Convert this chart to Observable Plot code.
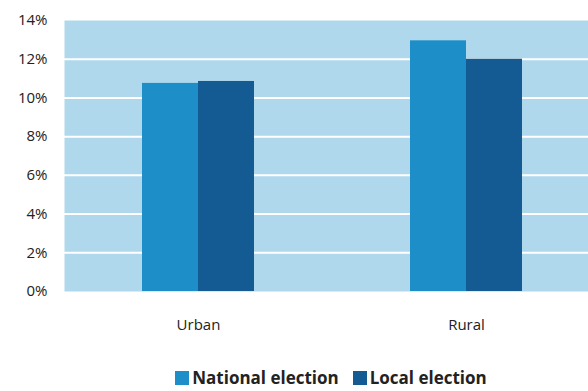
<!DOCTYPE html>
<html>
<head>
<meta charset="utf-8">
<script src="https://cdn.jsdelivr.net/npm/d3@7"></script>
<script src="https://cdn.jsdelivr.net/npm/@observablehq/plot@0.6"></script>
<style>
  html, body { margin: 0; padding: 0; background: #fff; overflow: hidden; }
  body { width: 588px; height: 391px; font-family: "Open Sans", sans-serif; }
  #legend { display: flex; justify-content: center; gap: 14px; padding-left: 74px; margin-top: 18px;
    font-weight: bold; font-size: 17px; color: #222; line-height: 20px; }
  .item { display: flex; align-items: center; gap: 3px; }
  .sw { width: 14px; height: 14px; display: inline-block; }
</style>
</head>
<body>
<div id="chart"></div>
<div id="legend"></div>
<script>
const categories = ["Urban", "Rural"];
const series = ["National election", "Local election"];
const nationalValues = [10.75, 12.95];
const localValues = [10.85, 12.0];
const yTicks = [0, 2, 4, 6, 8, 10, 12, 14];
const colors = ["#1e8ec9", "#145b93"];
const bgColor = "#afd8ec";

const national = categories.map((c, i) => ({category: c, series: series[0], value: nationalValues[i]}));
const local = categories.map((c, i) => ({category: c, series: series[1], value: localValues[i]}));

const chart = Plot.plot({
  width: 588,
  height: 350,
  marginLeft: 64,
  marginRight: 0,
  marginTop: 20,
  marginBottom: 59,
  style: {fontFamily: "Open Sans, sans-serif", fontSize: "15px", color: "#222", background: "#fff"},
  x: {domain: categories, range: [64, 600], padding: 0, label: null, tickSize: 0, tickPadding: 28},
  y: {domain: [0, 14], ticks: yTicks, tickFormat: d => d + "%", label: null, tickSize: 0, tickPadding: 17},
  marks: [
    Plot.frame({fill: bgColor, stroke: null}),
    Plot.ruleY(yTicks.filter(t => t > 0 && t < 14), {stroke: "#fff", strokeWidth: 2}),
    Plot.barY(national, {x: "category", y: "value", fill: colors[0], insetLeft: 78, insetRight: 134}),
    Plot.barY(local, {x: "category", y: "value", fill: colors[1], insetLeft: 134, insetRight: 78})
  ]
});
document.getElementById("chart").appendChild(chart);

const legend = document.getElementById("legend");
series.forEach((s, i) => {
  const item = document.createElement("span");
  item.className = "item";
  item.innerHTML = `<span class="sw" style="background:${colors[i]}"></span><span>${s}</span>`;
  legend.appendChild(item);
});
</script>
</body>
</html>
